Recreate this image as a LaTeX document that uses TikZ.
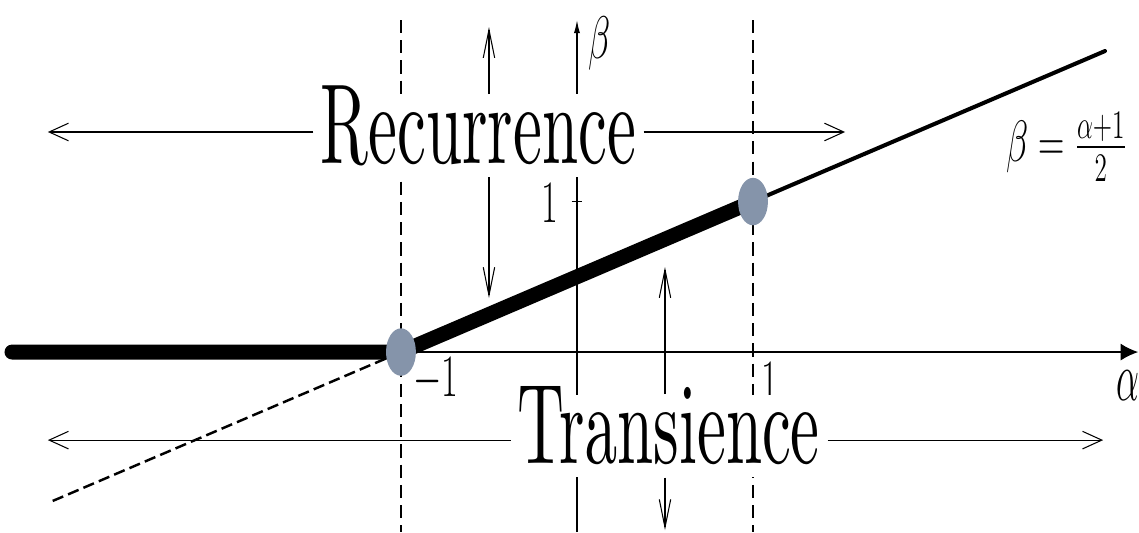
\documentclass[tikz,border=0pt]{standalone}
\usepackage{tikz}
\usetikzlibrary{arrows.meta, shapes.geometric}
\usepackage{graphicx}
\definecolor{GB}{RGB}{133,148,170}
\font\regimefont=cmr10 at 37pt

\begin{document}
\begin{tikzpicture}[x=3.52cm, y=3.01cm,
  axis/.style={line width=0.7pt},
  hbarb/.style={-{Straight Barb[length=11pt,width=10pt]}, line width=0.6pt},
  vbarb/.style={-{Straight Barb[length=16pt,width=6.5pt]}, line width=0.6pt},
  guide/.style={dash pattern=on 7.5pt off 4pt, line width=0.9pt},
  dot/.style={ellipse, fill=GB, minimum width=17pt, minimum height=27pt, inner sep=0pt},
  regime/.style={fill=white, inner xsep=4pt, inner ysep=0pt, text height=39pt,
                 text depth=8pt, anchor=base, font=\regimefont},
  lbl/.style={inner sep=0pt, font=\fontsize{20}{24}\selectfont}
]
\useasboundingbox (-3.278,-1.196) rectangle (3.193,2.339);

\coordinate (start) at (-3.21,0);
\coordinate (lo)    at (-1,0);
\coordinate (hi)    at (1,1);
\coordinate (far)   at (3,2);
\coordinate (farlo) at (-3,-1);

\draw[guide] (-1,2.206) -- (-1,-1.196);
\draw[guide] (1,2.206) -- (1,-1.196);

\draw[axis, -{Latex[length=10pt,width=9.7pt]}] (lo) -- (3.188,0);
\draw[axis, -{Latex[length=7.5pt,width=3.5pt]}] (0,-1.196) -- (0,2.206);
\draw[axis] (-0.03,1) -- (0.03,1);

\draw[line width=1.4pt, dash pattern=on 6.5pt off 3pt] (lo) -- (farlo);
\draw[line width=2.3pt, line cap=round] (hi) -- (far);
\draw[line width=8.5pt, line cap=round, line join=round] (start) -- (lo) -- (hi);

\node[dot] (dlo) at (lo) {};
\node[dot] (dhi) at (hi) {};

\node[lbl] (alab) at (3.13,-0.226) {\scalebox{1}[1.9]{$\alpha$}};
\node[lbl] (blab) at (0.131,2.053) {\scalebox{1}[1.65]{$\beta$}};
\node[lbl] (one)  at (-0.153,0.99) {\scalebox{1}[1.65]{$1$}};
\node[lbl] (mone) at (-0.801,-0.186) {\scalebox{1}[1.65]{$-1$}};
\node[lbl] (pone) at (1.097,-0.2) {\scalebox{1}[1.65]{$1$}};
\node[lbl] (eq)   at (2.781,1.362) {\scalebox{1}[1.6]{$\beta=\frac{\alpha+1}{2}$}};

\node[regime] (rec) at (-0.560,1.256) {\scalebox{1}[1.75]{Recurrence}};
\node[regime] (tra) at (0.523,-0.738) {\scalebox{1}[1.75]{Transience}};

\coordinate (recL) at (-3.006,1.462);
\coordinate (recR) at (1.523,1.462);
\coordinate (recU) at (-0.5,2.159);
\coordinate (recD) at (-0.5,0.359);
\draw[hbarb] (rec.west |- recL) -- (recL);
\draw[hbarb] (rec.east |- recR) -- (recR);
\draw[vbarb] (rec.north -| recU) -- (recU);
\draw[vbarb] (rec.south -| recD) -- (recD);

\coordinate (traL) at (-3.006,-0.585);
\coordinate (traR) at (2.989,-0.585);
\coordinate (traU) at (0.5,0.565);
\coordinate (traD) at (0.5,-1.183);
\draw[hbarb] (tra.west |- traL) -- (traL);
\draw[hbarb] (tra.east |- traR) -- (traR);
\draw[vbarb] (tra.north -| traU) -- (traU);
\draw[vbarb] (tra.south -| traD) -- (traD);
\end{tikzpicture}
\end{document}
